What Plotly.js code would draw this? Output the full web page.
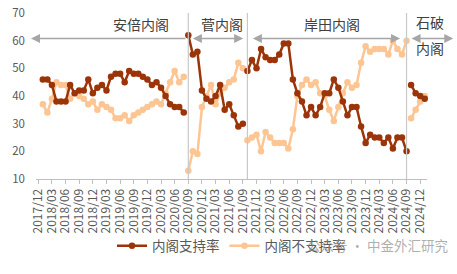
<!DOCTYPE html>
<html><head><meta charset="utf-8">
<script src="https://cdn.plot.ly/plotly-3.0.1.min.js"></script>
<style>html,body{margin:0;padding:0;background:#fff}#chart{width:457px;height:274px}</style>
</head><body><div id="chart"></div>
<script>
const months = ['2017/12',
'2018/01','2018/02','2018/03','2018/04','2018/05','2018/06','2018/07','2018/08','2018/09','2018/10','2018/11','2018/12',
'2019/01','2019/02','2019/03','2019/04','2019/05','2019/06','2019/07','2019/08','2019/09','2019/10','2019/11','2019/12',
'2020/01','2020/02','2020/03','2020/04','2020/05','2020/06','2020/07','2020/08','2020/09','2020/10','2020/11','2020/12',
'2021/01','2021/02','2021/03','2021/04','2021/05','2021/06','2021/07','2021/08','2021/09','2021/10','2021/11','2021/12',
'2022/01','2022/02','2022/03','2022/04','2022/05','2022/06','2022/07','2022/08','2022/09','2022/10','2022/11','2022/12',
'2023/01','2023/02','2023/03','2023/04','2023/05','2023/06','2023/07','2023/08','2023/09','2023/10','2023/11','2023/12',
'2024/01','2024/02','2024/03','2024/04','2024/05','2024/06','2024/07','2024/08','2024/09','2024/10','2024/11','2024/12',
'2025/01'];
const tickLabels = ['2017/12','2018/03','2018/06','2018/09','2018/12','2019/03','2019/06','2019/09','2019/12',
'2020/03','2020/06','2020/09','2020/12','2021/03','2021/06','2021/09','2021/12','2022/03','2022/06','2022/09','2022/12',
'2023/03','2023/06','2023/09','2023/12','2024/03','2024/06','2024/09','2024/12'];

// 安倍内阁 2018/01 - 2020/08
const abeStart = '2018/01';
const abeSupport = [46,46,44,38,38,38,44,41,42,42,46,41,43,44,42,47,48,48,45,49,48,48,47,46,44,45,43,40,37,36,36,34];
const abeOppose  = [37,34,39,45,44,44,39,41,40,39,37,38,35,37,36,35,32,32,33,31,33,34,35,36,37,38,37,41,45,49,45,47];
// 菅内阁 2020/09 - 2021/09
const sugaStart = '2020/09';
const sugaSupport = [62,55,56,42,39,38,40,44,35,37,33,29,30];
const sugaOppose  = [13,20,19,36,40,44,37,41,43,45,46,52,50];
// 岸田内阁 2021/10 - 2024/09
const kishidaStart = '2021/10';
const kishidaSupport = [49,53,50,57,54,53,53,55,59,59,46,41,38,33,36,33,36,41,41,46,43,38,33,36,36,29,23,26,25,25,23,25,21,25,25,20];
const kishidaOppose  = [24,25,26,20,27,25,23,23,23,21,28,40,44,46,44,45,41,40,35,31,36,41,45,43,44,52,58,56,57,57,57,55,60,57,55,60];
// 石破内阁 2024/10 -
const ishibaStart = '2024/10';
const ishibaSupport = [44,41,40,39];
const ishibaOppose  = [32,35,38,40];

const dividers = ['2020/09','2021/10','2024/09'];
const cabinetNames = ['安倍内阁','菅内阁','岸田内阁'];
const seriesNames = ['内阁支持率','内阁不支持率'];

const darkC = '#9C3409', lightC = '#FDC592';
const FONT = '"Noto Sans CJK SC", "Noto Sans", sans-serif';

function xs(start, vals){ const i = months.indexOf(start); return months.slice(i, i + vals.length); }
function tr(start, vals, kind, showleg){
  const c = kind === 0 ? darkC : lightC;
  return {type:'scatter', mode:'lines+markers', x: xs(start, vals), y: vals,
    name: seriesNames[kind], legendgroup: 'g'+kind, showlegend: showleg,
    legendrank: kind + 1,
    line:{color:c, width:2.5}, marker:{color:c, size:6.5}, cliponaxis:false};
}
// light (opposition) traces first so the dark support line is drawn on top
const data = [
  tr(abeStart, abeOppose, 1, true), tr(sugaStart, sugaOppose, 1, false),
  tr(kishidaStart, kishidaOppose, 1, false), tr(ishibaStart, ishibaOppose, 1, false),
  tr(abeStart, abeSupport, 0, true), tr(sugaStart, sugaSupport, 0, false),
  tr(kishidaStart, kishidaSupport, 0, false), tr(ishibaStart, ishibaSupport, 0, false)
];

const N = months.length;
const plotW = 391;
const px = idx => (idx + 0.5) / N;   // category index -> paper x
const dIdx = dividers.map(d => months.indexOf(d));
const arrowY = 0.847;

const shapes = dIdx.map(i => ({type:'line', xref:'x', yref:'paper', x0:i, x1:i, y0:0, y1:1,
  line:{color:'#c8c8c8', width:1.2}}));

function arrow(a, b, both){
  return {xref:'paper', yref:'paper', x: px(a), y: arrowY, ax: (px(b)-px(a))*plotW, ay: 0,
    axref:'pixel', ayref:'pixel', text:'', showarrow:true, arrowhead:2, startarrowhead:2,
    arrowsize:1.2, startarrowsize:1.2, arrowwidth:1.5, arrowcolor:'#a6a6a6',
    arrowside: both ? 'end+start' : 'end'};
}
function label(t, idx, y){
  return {xref:'paper', yref:'paper', x:px(idx), y:y, xanchor:'center', yanchor:'middle', text:t,
    showarrow:false, font:{size:14, color:'#404040', family:FONT}};
}
const annotations = [
  arrow(-1.6, dIdx[0]-0.3, false),
  arrow(dIdx[0]+1.0, dIdx[1]-0.6, true),
  arrow(dIdx[1]+1.2, dIdx[2]-1.1, true),
  arrow(dIdx[2]+1.1, 91.6, true),
  label(cabinetNames[0], 22.6, 0.932),
  label(cabinetNames[1], 40.4, 0.932),
  label(cabinetNames[2], 64.5, 0.932),
  label('石破', 86.1, 0.943),
  label('内阁', 86.1, 0.79),
  {xref:'paper', yref:'paper', x:(305-36)/plotW, y:(189-259)/176, xanchor:'left', yanchor:'middle',
    text:'公众号 · 中金外汇研究', showarrow:false,
    font:{size:13.5, color:'rgba(140,140,140,0.7)', family:FONT}}
];

const layout = {
  width:457, height:274, margin:{l:36, r:30, t:13, b:85},
  paper_bgcolor:'#fff', plot_bgcolor:'#fff',
  font:{family:FONT, color:'#595959'},
  showlegend:true,
  legend:{orientation:'h', x:0.5, xanchor:'center', y:(189-260)/176, yanchor:'middle',
    font:{size:13.5, color:'#595959', family:FONT}, bgcolor:'rgba(0,0,0,0)'},
  xaxis:{type:'category', categoryorder:'array', categoryarray:months, range:[-0.5, N-0.5],
    tickmode:'array', tickvals:tickLabels, ticktext:tickLabels, tickangle:-90,
    ticks:'outside', ticklen:4, tickcolor:'#bfbfbf', showline:true, linecolor:'#bfbfbf', linewidth:1,
    showgrid:false, zeroline:false, automargin:false, tickfont:{size:12, color:'#595959', family:FONT}},
  yaxis:{range:[10,70], dtick:10, tick0:10, showgrid:false, zeroline:false, showline:false,
    ticks:'', ticklabelstandoff:10, automargin:false, tickfont:{size:11.5, color:'#595959', family:FONT}},
  shapes: shapes, annotations: annotations
};
Plotly.newPlot('chart', data, layout, {staticPlot:true, displayModeBar:false});
</script></body></html>
